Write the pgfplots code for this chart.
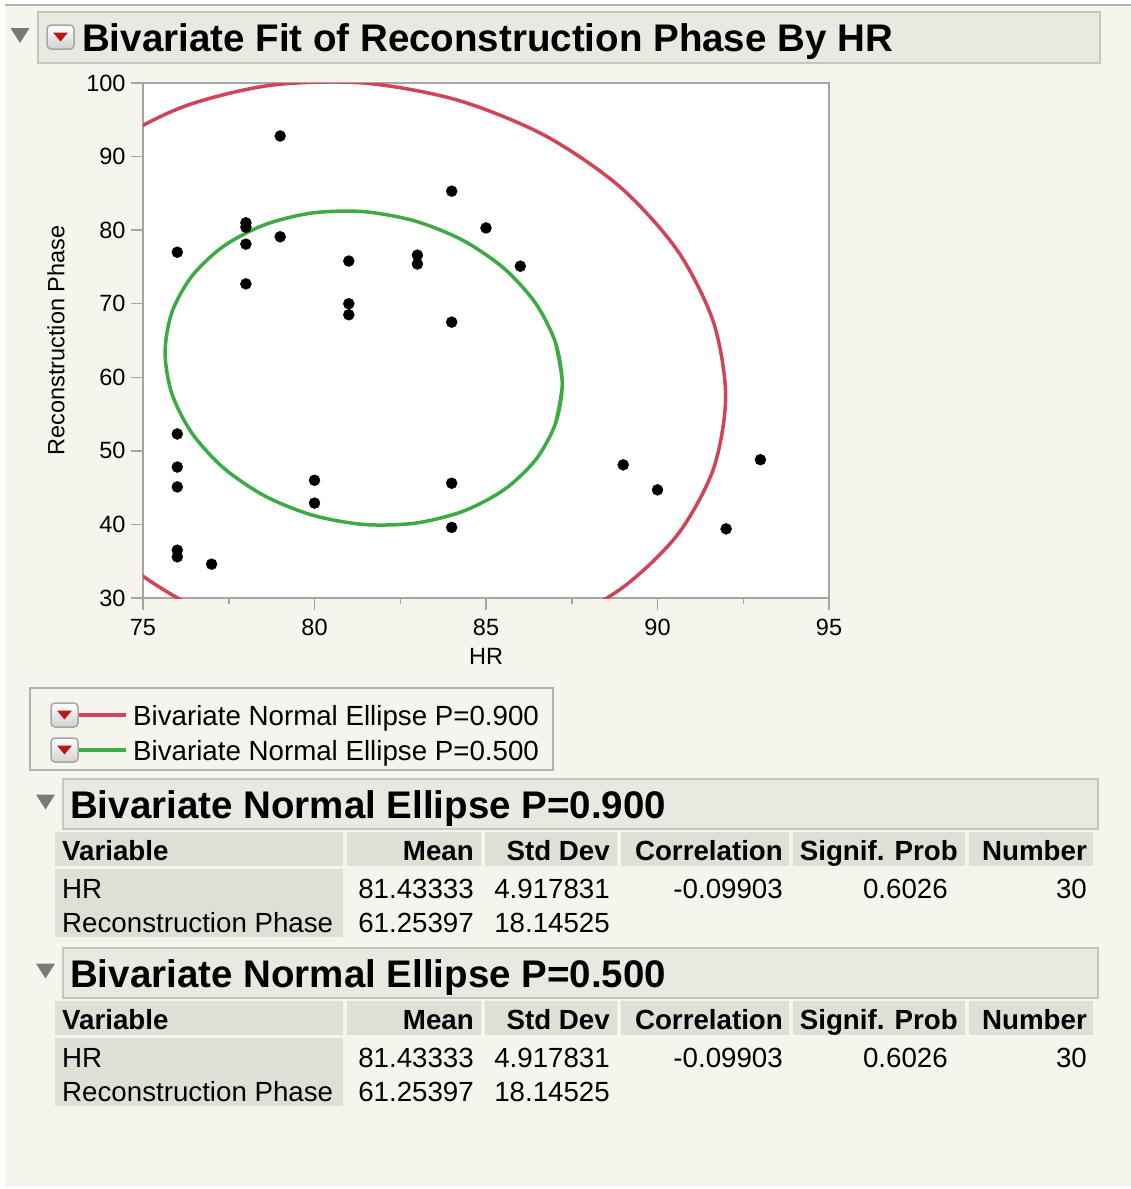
\documentclass[border=0pt]{standalone}
\usepackage{pgfplots}
\pgfplotsset{compat=1.18}
\usepackage{fontspec}
\setmainfont{Liberation Sans}

\definecolor{pagebg}{RGB}{245,245,238}
\definecolor{hdrfill}{RGB}{233,233,226}
\definecolor{hdrline}{RGB}{198,198,190}
\definecolor{cellfill}{RGB}{223,223,213}
\definecolor{axisgray}{RGB}{165,165,165}
\definecolor{ellred}{RGB}{209,67,87}
\definecolor{ellgreen}{RGB}{62,170,68}
\definecolor{trigray}{RGB}{122,122,122}
\definecolor{btnred}{RGB}{190,20,24}

\newcommand\titlefont{\fontsize{38.5}{44}\selectfont\bfseries}
\newcommand\tabfont{\fontsize{27.7}{32}\selectfont}
\newcommand\tickfont{\fontsize{23.5}{28}\selectfont}

% observations: HR, Reconstruction Phase
\pgfplotstableread{
hr  rp
79  92.8
84  85.3
85  80.3
78  81.0
78  80.4
76  77.0
78  78.1
79  79.1
81  75.8
83  76.6
83  75.4
86  75.1
78  72.7
81  70.0
81  68.5
84  67.5
76  52.3
76  47.8
76  45.1
80  46.0
80  42.9
84  45.6
84  39.6
89  48.1
90  44.7
93  48.8
92  39.4
76  36.5
76  35.6
77  34.6
}\obs

\tikzset{
  menubtn/.pic={
    \draw[rounded corners=4, draw=black!35, top color=white, bottom color=black!18, line width=1.5]
      (-13.5,-12) rectangle (13.5,12);
    \fill[btnred] (-7.5,-4.5) -- (7.5,-4.5) -- (0,4.5) -- cycle;
  },
  disclose/.pic={
    \fill[trigray] (-9.5,-7.5) -- (9.5,-7.5) -- (0,7.5) -- cycle;
  }
}

% one "Bivariate Normal Ellipse" report block, shifted down by #1
\newcommand\ellsection[2]{%
\begin{scope}[shift={(0,#1)}]
  \pic at (45.5,802) {disclose};
  \draw[hdrline, fill=hdrfill, line width=2] (63,779) rectangle (1098,829);
  \node[anchor=base west, inner sep=0] at (70,818) {\titlefont Bivariate Normal Ellipse P=#2};
  \fill[cellfill] (55,832) rectangle (343,866);
  \fill[cellfill] (347,832) rectangle (481,866);
  \fill[cellfill] (485,832) rectangle (617,866);
  \fill[cellfill] (621,832) rectangle (789,866);
  \fill[cellfill] (793,832) rectangle (965,866);
  \fill[cellfill] (969,832) rectangle (1093,866);
  \fill[cellfill] (55,869) rectangle (343,937);
  \begin{scope}[every node/.style={inner sep=0, font=\tabfont}]
    \node[anchor=base west] at (62,860) {\bfseries Variable};
    \node[anchor=base east] at (474,860) {\bfseries Mean};
    \node[anchor=base east] at (610,860) {\bfseries Std Dev};
    \node[anchor=base east] at (783,860) {\bfseries Correlation};
    \node[anchor=base east] at (958,860) {\bfseries Signif. Prob};
    \node[anchor=base east] at (1087,860) {\bfseries Number};
    \node[anchor=base west] at (62,898) {HR};
    \node[anchor=base east] at (474,898) {81.43333};
    \node[anchor=base east] at (610,898) {4.917831};
    \node[anchor=base east] at (783,898) {-0.09903};
    \node[anchor=base east] at (948,898) {0.6026};
    \node[anchor=base east] at (1087,898) {30};
    \node[anchor=base west] at (62,932) {Reconstruction Phase};
    \node[anchor=base east] at (474,932) {61.25397};
    \node[anchor=base east] at (610,932) {18.14525};
  \end{scope}
\end{scope}}

\begin{document}
\begin{tikzpicture}
\begin{scope}[x=1pt, y=-1pt]
  \fill[white] (0,0) rectangle (1131,1189);
  \useasboundingbox (0,0) rectangle (1131,1189);
  \fill[pagebg] (5,6) rectangle (1131,1187);
  \draw[black!30, line width=2] (5,5) -- (1131,5);
  % report title bar
  \pic at (20,35.5) {disclose};
  \draw[hdrline, fill=hdrfill, line width=2] (38,12) rectangle (1100,63);
  \pic at (60.5,37) {menubtn};
  \node[anchor=base west, inner sep=0] at (82,51) {\titlefont Bivariate Fit of Reconstruction Phase By HR};
\end{scope}

\begin{axis}[
  at={(143pt,-598pt)}, anchor=south west,
  scale only axis, width=686pt, height=515pt,
  xmin=75, xmax=95, ymin=30, ymax=100,
  xtick={75,80,...,95}, ytick={30,40,...,100},
  minor x tick num=1,
  tick pos=left, tick align=outside,
  major tick length=12pt, minor tick length=6pt,
  every tick/.style={draw=axisgray, line width=1.5pt},
  axis line style={draw=axisgray, line width=1.5pt},
  axis background/.style={fill=white},
  /pgf/number format/assume math mode=true,
  ticklabel style={font=\tickfont, text=black},
  xticklabel style={yshift=-6pt},
  yticklabel style={xshift=-2pt},
  label style={font=\tickfont},
  xlabel={HR}, ylabel={Reconstruction Phase},
  xlabel style={at={(axis description cs:0.5,-0.113)}, anchor=center},
  ylabel style={at={(axis description cs:-0.127,0.5)}, anchor=center},
  clip=true,
]
% 90% normal density ellipse
\addplot[ellred, line width=3.5pt, smooth] coordinates {
(81.433,22.506) (84.165,22.828) (86.710,25.769) (88.896,31.128)
(90.573,38.541) (91.627,47.500) (91.987,57.398) (91.627,67.558)
(90.573,77.289) (88.896,85.926) (86.710,92.883) (84.165,97.684)
(81.433,100.003) (78.702,99.680) (76.156,96.739) (73.971,91.380)
(72.294,83.968) (71.239,75.008) (70.880,65.110) (71.239,54.950)
(72.294,45.219) (73.971,36.582) (76.156,29.625) (78.702,24.824)
(81.433,22.506)
};
% 50% normal density ellipse
\addplot[ellgreen, line width=3.5pt, smooth] coordinates {
(87.026,53.708) (87.224,59.138) (87.026,64.713) (86.448,70.051)
(85.528,74.791) (84.329,78.607) (82.932,81.242) (81.433,82.514)
(79.935,82.337) (78.538,80.723) (77.339,77.783) (76.419,73.716)
(75.840,68.800) (75.643,63.370) (75.840,57.795) (76.419,52.457)
(77.339,47.718) (78.538,43.901) (79.935,41.267) (81.433,39.995)
(82.932,40.171) (84.329,41.785) (85.528,44.725) (86.448,48.792)
(87.026,53.708) (87.224,59.138) (87.026,64.713)
};
\addplot[only marks, mark=*, mark size=5.5pt, black] table[x=hr, y=rp] {\obs};
\end{axis}

\begin{scope}[x=1pt, y=-1pt]
  % legend
  \draw[black!30, line width=1.5] (30,688) rectangle (553,770);
  \pic at (64.5,715) {menubtn};
  \pic at (64.5,750) {menubtn};
  \draw[ellred, line width=3.5] (79,715) -- (126,715);
  \draw[ellgreen, line width=3.5] (79,750) -- (126,750);
  \node[anchor=base west, inner sep=0] at (133,725) {\tabfont Bivariate Normal Ellipse P=0.900};
  \node[anchor=base west, inner sep=0] at (133,760) {\tabfont Bivariate Normal Ellipse P=0.500};
  % summary tables
  \ellsection{0}{0.900}
  \ellsection{169}{0.500}
\end{scope}
\end{tikzpicture}
\end{document}
